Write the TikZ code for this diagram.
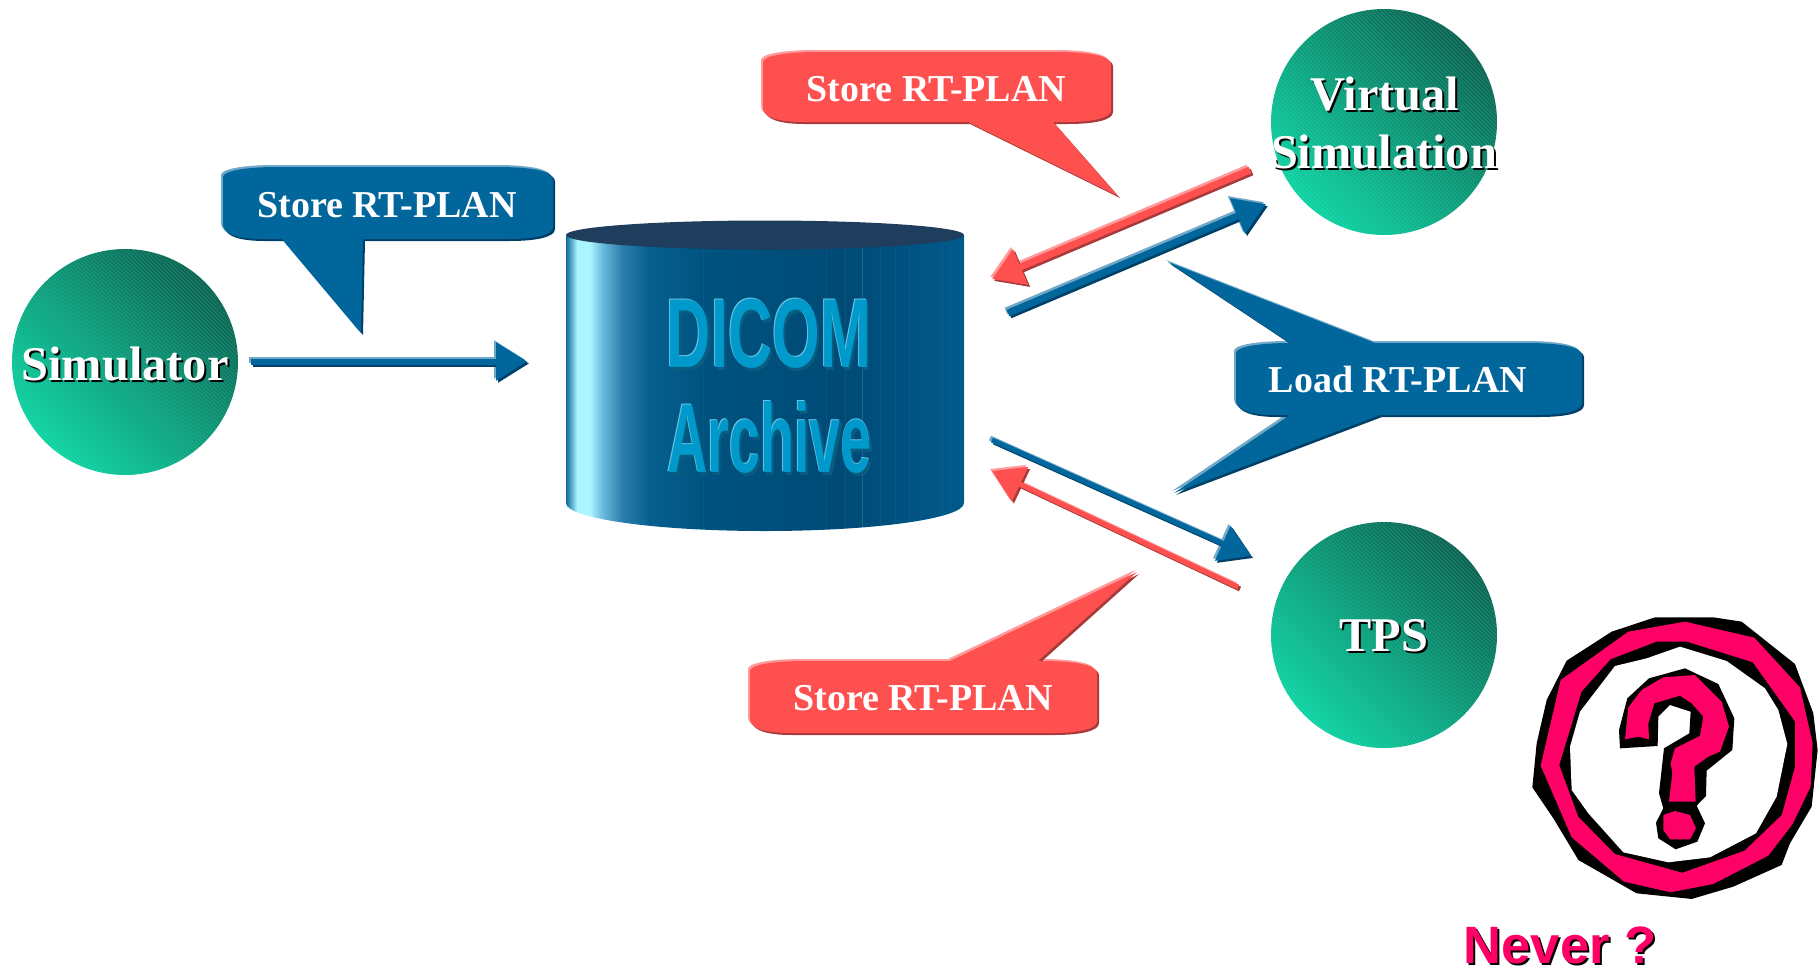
\documentclass[tikz,border=0pt]{standalone}
\usepackage{fontspec}
\usepackage{graphicx}
\setmainfont{Liberation Serif}
\newfontfamily\arialf{Liberation Sans}
\usetikzlibrary{arrows.meta,shapes.geometric}
\definecolor{bluemain}{HTML}{00669C}
\definecolor{bluelight}{HTML}{6FA8C8}
\definecolor{bluedark}{HTML}{003F66}
\definecolor{redmain}{HTML}{FF5050}
\definecolor{redlight}{HTML}{FF9A9A}
\definecolor{reddark}{HTML}{A83A3A}
\definecolor{pinkq}{HTML}{FF0066}
\definecolor{diconmain}{HTML}{0099CC}
\definecolor{diconlight}{HTML}{66C4E0}
\definecolor{dicondark}{HTML}{0A5C80}
\definecolor{cyltop}{HTML}{1F3D5C}
\definecolor{cA}{HTML}{0A6A9A}
\definecolor{cB}{HTML}{AAF5FF}
\definecolor{cC}{HTML}{6AB8DC}
\definecolor{cD}{HTML}{2A7EAA}
\definecolor{cE}{HTML}{06608F}
\definecolor{cF}{HTML}{00527F}
\definecolor{cG}{HTML}{004A76}
\definecolor{cH}{HTML}{005A8C}
\definecolor{greenlight}{HTML}{08D2A0}
\definecolor{greendark}{HTML}{066350}
\pgfdeclarehorizontalshading{cylshade}{100bp}{
 color(0bp)=(cA); color(25bp)=(cA); color(26.4bp)=(cB); color(28bp)=(cB);
 color(29.6bp)=(cC); color(32.1bp)=(cD); color(35.5bp)=(cE); color(42.5bp)=(cF);
 color(60bp)=(cG); color(75bp)=(cH); color(100bp)=(cH)}
\newcommand\bevel[4]{%
 \fill[#1,shift={(-2,-2)}] #4;
 \fill[#3,shift={(2,2)}] #4;
 \fill[#2] #4;}
\newcommand\boxpath[6]{%
 (#1,{#2+10}) .. controls (#1,{#2+4}) and ({#1+22},#2) .. ({#1+55},#2) #5
 -- ({#3-55},#2) .. controls ({#3-22},#2) and (#3,{#2+4}) .. (#3,{#2+12})
 -- (#3,{#4-12}) .. controls (#3,{#4-4}) and ({#3-18},#4) .. ({#3-45},#4) #6
 -- ({#1+40},#4) .. controls ({#1+14},#4) and (#1,{#4-5}) .. (#1,{#4-14}) -- cycle}
\newcommand\barrow[6]{%
 \draw[#1,barrowstyle,line width=#6pt] ([shift={(-2,-2)}]#4) -- ([shift={(-2,-2)}]#5);
 \draw[#3,barrowstyle,line width=#6pt] ([shift={(2,2)}]#4) -- ([shift={(2,2)}]#5);
 \draw[#2,barrowstyle,line width=#6pt] (#4) -- (#5);}
\newcommand\shadowtext[1]{\makebox[0pt][l]{\hspace{2pt}\raisebox{-2pt}{\color{black}#1}}#1}
\newcommand\threeD[2]{\scalebox{#1}[1]{\makebox[0pt][l]{\hspace{4pt}\raisebox{-3pt}{\color{dicondark}#2}}\makebox[0pt][l]{\hspace{-1.5pt}\raisebox{1pt}{\color{diconlight}#2}}\color{diconmain}#2}}
\tikzset{
 barrowstyle/.style={-{Triangle[length=31pt,width=37pt]}},
 station/.style={circle,minimum size=226pt,inner sep=0pt,shading=axis,top color=greendark,bottom color=greenlight,shading angle=-45,
  path picture={\foreach \d in {-320,-316,...,320}{\draw[white,opacity=.10,line width=1.3pt] ([shift={({\d-200},-200)}]path picture bounding box.center) -- ([shift={({\d+200},200)}]path picture bounding box.center);}}},
 stationtext/.style={anchor=base,inner sep=0pt,text=white,font=\fontsize{48.4}{58}\selectfont\bfseries},
 calltext/.style={anchor=base,inner sep=0pt,text=white,font=\fontsize{38}{44}\selectfont\bfseries},
 dicomtext/.style={anchor=base,inner sep=0pt,font=\arialf\fontsize{98}{110}\selectfont\bfseries},
 neverq/.style={anchor=base,inner sep=0pt,font=\arialf\fontsize{52.5}{60}\selectfont\bfseries,text=pinkq},
}
\begin{document}
\begin{tikzpicture}[x=1pt,y=-1pt]
\useasboundingbox (0,0) rectangle (1818,972);
% stations
\node[station] (sim) at (125,362) {};
\node[station] (vs) at (1384,122) {};
\node[station] (tps) at (1384,635) {};
\node[stationtext] (simt) at (125,380) {\shadowtext{Simulator}};
\node[stationtext] (vst1) at (1385,110) {\shadowtext{Virtual}};
\node[stationtext] (vst2) at (1384,168) {\shadowtext{Simulation}};
\node[stationtext] (tpst) at (1384,651) {\shadowtext{TPS}};
% cylinder
\path[shading=cylshade] (566,235) -- (566,503) .. controls (566,518.5) and (655,531) .. (765,531) .. controls (875,531) and (964,518.5) .. (964,503) -- (964,235) -- cycle;
\begin{scope}
\clip (566,235) -- (566,503) .. controls (566,518.5) and (655,531) .. (765,531) .. controls (875,531) and (964,518.5) .. (964,503) -- (964,235) -- cycle;
\foreach \xx/\oo in {703/.03,826/.04,845/.05,862/.14,880/.05,895/.04,909/.04,921/.04,942/.04,950/.04}
 \draw[white,opacity=\oo,line width=.8pt] (\xx,245) -- (\xx,540);
\end{scope}
\fill[cyltop] (765,235) ellipse[x radius=199,y radius=14.5];
\node[dicomtext] (dicom) at (769,367) {\threeD{0.625}{DICOM}};
\node[dicomtext] (archive) at (769.5,472) {\threeD{0.57}{Archive}};
% callouts
\bevel{bluelight}{bluemain}{bluedark}{\boxpath{223}{167}{553}{239}{}{-- (363,239) -- (361,333) -- (282,239)}}
\node[calltext] (c1) at (387,217) {Store RT-PLAN};
\bevel{redlight}{redmain}{reddark}{\boxpath{763}{52}{1111}{122}{}{-- (1053,122) -- (1118,196) -- (968,122)}}
\node[calltext] (c2) at (936.5,101) {Store RT-PLAN};
\bevel{bluelight}{bluemain}{bluedark}{\boxpath{1236}{343}{1582}{415}{-- (1290,343) -- (1168,262) -- (1375,343)}{-- (1380,415) -- (1174,493) -- (1290,415)}}
\node[calltext] (c3) at (1398,392) {Load RT-PLAN};
\bevel{redlight}{redmain}{reddark}{\boxpath{750}{661}{1097}{733}{-- (950,661) -- (1137,572) -- (1038,661)}{}}
\node[calltext] (c4) at (923,710) {Store RT-PLAN};
% arrows
\coordinate (a1s) at (251,361.5); \coordinate (a1e) at (527,361.5);
\coordinate (a2s) at (1250,170); \coordinate (a2e) at (992,279);
\coordinate (a3s) at (1008,313); \coordinate (a3e) at (1266,204);
\coordinate (a4s) at (992,440); \coordinate (a4e) at (1251,556);
\coordinate (a5s) at (1238,587); \coordinate (a5e) at (992,471);
\barrow{bluelight}{bluemain}{bluedark}{a1s}{a1e}{6}
\barrow{redlight}{redmain}{reddark}{a2s}{a2e}{7}
\barrow{bluelight}{bluemain}{bluedark}{a3s}{a3e}{7}
\barrow{bluelight}{bluemain}{bluedark}{a4s}{a4e}{5}
\barrow{redlight}{redmain}{reddark}{a5s}{a5e}{5}
% question mark
\begin{scope}[shift={(1500,600)},x=0.3333pt,y=-0.3333pt]
\fill[black] (97,562)--(110,430)--(140,300)--(200,182)--(335,95)--(465,52)--(640,52)--(725,65)--(885,192)--(940,340)--(953,450)--(935,620)--(870,730)--(845,795)--(700,860)--(575,897)--(410,880)--(235,780)--(160,655)--cycle;
\fill[pinkq] (122,497)--(182,240)--(385,95)--(555,65)--(763,113)--(900,262)--(938,430)--(932,560)--(878,672)--(805,767)--(640,852)--(512,877)--(372,845)--(215,712)--cycle;
\fill[black] (178,495)--(245,275)--(332,178)--(470,125)--(560,125)--(758,187)--(885,365)--(885,500)--(845,645)--(733,752)--(547,818)--(345,762)--(235,650)--cycle;
\fill[white] (210,440)--(240,335)--(345,198)--(440,175)--(540,140)--(680,183)--(795,265)--(835,330)--(862,432)--(830,590)--(768,700)--(630,772)--(505,787)--(370,757)--(265,640)--(215,570)--cycle;
\fill[black] (357,390)--(382,295)--(447,235)--(555,205)--(655,252)--(703,355)--(697,450)--(620,512)--(618,588)--(590,617)--(615,670)--(592,725)--(527,748)--(475,715)--(468,668)--(490,625)--(477,580)--(492,445)--(568,400)--(572,335)--(510,315)--(475,350)--(473,438)--(360,445)--cycle;
\fill[pinkq] (375,418)--(385,322)--(425,270)--(490,232)--(585,225)--(665,305)--(687,380)--(660,455)--(625,470)--(583,500)--(587,605)--(507,605)--(517,520)--(512,490)--(525,445)--(600,408)--(610,350)--(575,310)--(540,287)--(463,310)--(445,370)--(447,418)--(415,410)--cycle;
\fill[pinkq] (490,645)--(525,633)--(570,645)--(588,685)--(570,718)--(510,718)--(490,690)--cycle;
\end{scope}
\node[neverq] (never) at (1560,963) {\shadowtext{Never ?}};
\end{tikzpicture}
\end{document}
